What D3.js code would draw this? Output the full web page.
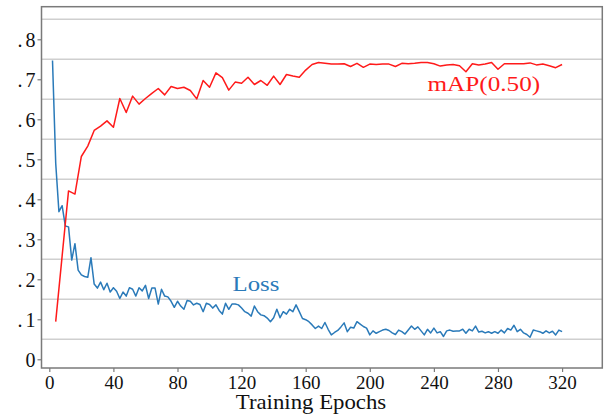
<!DOCTYPE html>
<html>
  <head>
    <meta http-equiv="Content-Type" content="text/html;charset=utf-8"/>
    <script src="https://cdn.jsdelivr.net/npm/d3@7"></script>
    <style>
      body { margin: 0; background: #fff; }
      text { font-family: "Liberation Serif", "Times New Roman", serif; }
    </style>
  </head>
  <body>
    <script type="text/javascript">

// data
var mapEpochs = d3.range(4, 321, 4);
var mapValues = [
  0.094, 0.258, 0.421, 0.413, 0.507, 0.533, 0.572, 0.583, 0.596, 0.580,
  0.652, 0.617, 0.658, 0.638, 0.652, 0.665, 0.677, 0.661, 0.682, 0.677,
  0.680, 0.672, 0.651, 0.697, 0.680, 0.716, 0.704, 0.673, 0.693, 0.690,
  0.705, 0.687, 0.697, 0.685, 0.708, 0.687, 0.712, 0.708, 0.705, 0.723,
  0.737, 0.742, 0.740, 0.738, 0.738, 0.739, 0.732, 0.740, 0.730, 0.738,
  0.737, 0.738, 0.738, 0.732, 0.740, 0.739, 0.740, 0.742, 0.742, 0.739,
  0.733, 0.736, 0.737, 0.734, 0.719, 0.739, 0.736, 0.738, 0.742, 0.725,
  0.739, 0.739, 0.739, 0.739, 0.741, 0.736, 0.738, 0.734, 0.729, 0.737
];

var lossEpochs = d3.range(2, 321, 2);
var lossValues = [
  0.747, 0.490, 0.369, 0.384, 0.333, 0.331, 0.248, 0.289, 0.223, 0.211,
  0.207, 0.205, 0.254, 0.188, 0.178, 0.193, 0.174, 0.190, 0.168, 0.179,
  0.170, 0.152, 0.168, 0.158, 0.179, 0.175, 0.158, 0.179, 0.171, 0.185,
  0.152, 0.178, 0.178, 0.138, 0.175, 0.158, 0.156, 0.145, 0.130, 0.145,
  0.133, 0.125, 0.147, 0.145, 0.136, 0.140, 0.137, 0.119, 0.140, 0.137,
  0.128, 0.136, 0.122, 0.113, 0.140, 0.125, 0.138, 0.138, 0.136, 0.128,
  0.119, 0.115, 0.108, 0.133, 0.119, 0.111, 0.109, 0.103, 0.094, 0.104,
  0.125, 0.104, 0.119, 0.113, 0.125, 0.119, 0.136, 0.119, 0.102, 0.099,
  0.094, 0.086, 0.077, 0.083, 0.077, 0.092, 0.075, 0.061, 0.067, 0.072,
  0.081, 0.091, 0.069, 0.080, 0.078, 0.094, 0.088, 0.082, 0.078, 0.061,
  0.071, 0.065, 0.069, 0.073, 0.075, 0.072, 0.066, 0.062, 0.073, 0.069,
  0.063, 0.073, 0.083, 0.075, 0.081, 0.071, 0.061, 0.075, 0.066, 0.078,
  0.066, 0.069, 0.057, 0.071, 0.073, 0.070, 0.071, 0.071, 0.075, 0.065,
  0.075, 0.071, 0.083, 0.068, 0.070, 0.066, 0.069, 0.065, 0.069, 0.065,
  0.073, 0.066, 0.077, 0.073, 0.085, 0.069, 0.075, 0.066, 0.062, 0.055,
  0.073, 0.071, 0.069, 0.065, 0.071, 0.066, 0.070, 0.061, 0.073, 0.069
];

var xTicks = [0, 40, 80, 120, 160, 200, 240, 280, 320];
var yTicks = [0, 0.1, 0.2, 0.3, 0.4, 0.5, 0.6, 0.7, 0.8];
var yTickLabels = ["0", ".1", ".2", ".3", ".4", ".5", ".6", ".7", ".8"];
var gridValues = [0.05, 0.15, 0.25, 0.35, 0.45, 0.55, 0.65, 0.75, 0.85];

var w = 607, h = 415;
var pLeft = 41.5, pRight = 602.3, pTop = 6.7, pBottom = 368;

var svg = d3.select("body").append("svg")
  .attr("width", w)
  .attr("height", h);

var x = d3.scaleLinear().domain([-4.87, 345.1]).range([pLeft, pRight]);
var y = d3.scaleLinear().domain([-0.0218, 0.8815]).range([pBottom, pTop]);

// grid
svg.append("g").selectAll("line")
  .data(gridValues)
  .enter().append("line")
  .attr("x1", pLeft).attr("x2", pRight)
  .attr("y1", function(d) { return y(d); })
  .attr("y2", function(d) { return y(d); })
  .attr("stroke", "#cfcfcf")
  .attr("stroke-width", 1.4);

// lines
var line = d3.line()
  .x(function(d) { return x(d[0]); })
  .y(function(d) { return y(d[1]); });

svg.append("path")
  .datum(d3.zip(lossEpochs, lossValues))
  .attr("d", line)
  .attr("fill", "none")
  .attr("stroke", "#2a7ab9")
  .attr("stroke-width", 1.5)
  .attr("stroke-linejoin", "round");

svg.append("path")
  .datum(d3.zip(mapEpochs, mapValues))
  .attr("d", line)
  .attr("fill", "none")
  .attr("stroke", "#ff1a1a")
  .attr("stroke-width", 1.5)
  .attr("stroke-linejoin", "round");

// frame
svg.append("rect")
  .attr("x", pLeft).attr("y", pTop)
  .attr("width", pRight - pLeft).attr("height", pBottom - pTop)
  .attr("fill", "none")
  .attr("stroke", "#7a7a7a")
  .attr("stroke-width", 1.5);

// axes
var xAxis = svg.append("g")
  .attr("transform", "translate(0," + pBottom + ")")
  .call(d3.axisBottom(x).tickValues(xTicks).tickSize(4).tickPadding(4).tickSizeOuter(0));

var yAxis = svg.append("g")
  .attr("transform", "translate(" + pLeft + ",0)")
  .call(d3.axisLeft(y).tickValues(yTicks).tickSize(4).tickPadding(5).tickSizeOuter(0)
    .tickFormat(function(d, i) { return yTickLabels[i]; }));

[xAxis, yAxis].forEach(function(a) {
  a.select(".domain").remove();
  a.selectAll(".tick line").attr("stroke", "#7a7a7a").attr("stroke-width", 1.2);
  a.selectAll(".tick text")
    .attr("fill", "#111")
    .style("font-family", "'Liberation Serif', serif");
});
xAxis.selectAll(".tick text").style("font-size", "19px").attr("dy", "0.71em").attr("y", 7.5);
// the dot sits apart from the digit in the picture
yAxis.selectAll(".tick text").style("font-size", "20px").attr("dy", "0.34em")
  .attr("x", -3).style("letter-spacing", "3px");

// stretched text labels
function label(txt, px, py, size, sx, color, anchor) {
  svg.append("text")
    .attr("transform", "translate(" + px + "," + py + ") scale(" + sx + ",1)")
    .attr("text-anchor", anchor || "start")
    .style("font-size", size + "px")
    .attr("fill", color)
    .text(txt);
}

label("Training Epochs", 311, 409, 20, 1.14, "#111", "middle");
label("mAP(0.50)", 427.5, 90.7, 21, 1.2, "#ff1a1a");
label("Loss", 232.5, 290.7, 21, 1.18, "#2a7ab9");

    </script>
  </body>
</html>
